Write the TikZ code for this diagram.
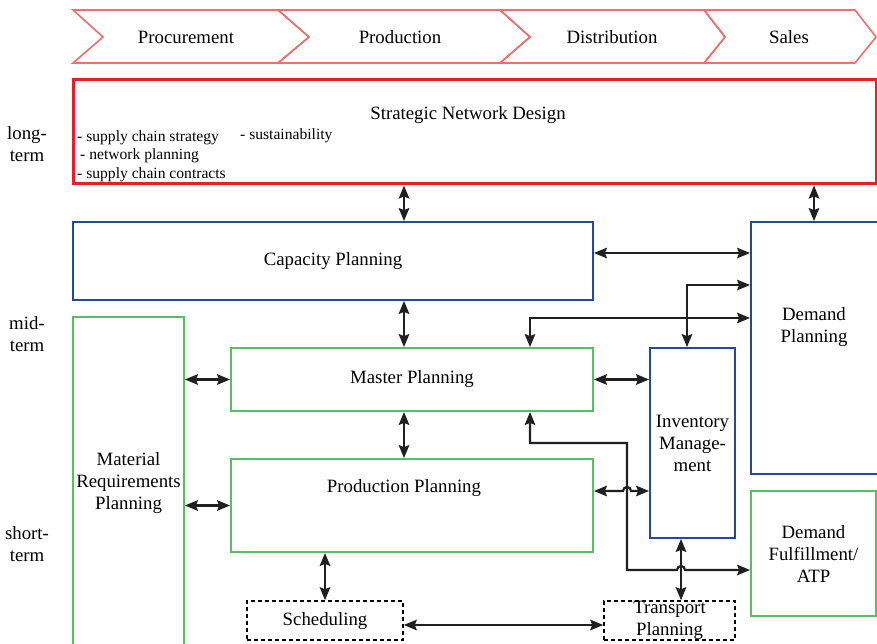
\documentclass[tikz,border=0pt]{standalone}
\usepackage{fontspec}
\setmainfont{Liberation Serif}
\usetikzlibrary{arrows.meta, calc}

\definecolor{chevred}{RGB}{236,112,112}
\definecolor{stratred}{RGB}{230,32,40}
\definecolor{planblue}{RGB}{36,72,160}
\definecolor{plangreen}{RGB}{88,190,100}
\definecolor{linkgray}{RGB}{32,32,32}

\begin{document}
\begin{tikzpicture}[
    x=1pt, y=-1pt,
    >={Stealth[length=13pt, width=10.5pt, inset=2pt]},
    font=\rmfamily\fontsize{18.8}{22}\selectfont,
    box/.style={draw, line width=1.8pt, inner sep=0pt, align=center},
    bluebox/.style={box, draw=planblue},
    greenbox/.style={box, draw=plangreen},
    dashbox/.style={box, draw=black, line width=1.5pt, dash pattern=on 4pt off 3pt},
    link/.style={<->, line width=2.2pt, draw=linkgray},
    chev/.style={draw=chevred, line width=1.6pt, line join=miter},
    small/.style={font=\rmfamily\fontsize{15.6}{18.5}\selectfont, inner sep=0pt},
]
    \useasboundingbox (0,0) rectangle (877,644);
    \clip (0,0) rectangle (877,644);

    % value chain
    \foreach \a/\b/\d/\e in {73/278/30/31, 278/500/31/30, 500/704/30/21, 704/855/21/21}
        \draw[chev] (\a,10) -- (\b,10) -- (\b+\e,37) -- (\b,63) -- (\a,63) -- (\a+\d,37) -- cycle;

    \node (proc)  at (186,37) {Procurement};
    \node (prodn) at (400,37) {Production};
    \node (dist)  at (612,37) {Distribution};
    \node (sales) at (789,37) {Sales};

    % horizon
    \node[align=center] (long)  at (27,144) {long-\\term};
    \node[align=center] (mid)   at (27,334) {mid-\\term};
    \node[align=center] (short) at (27,544) {short-\\term};

    % boxes
    \node[box, draw=stratred, line width=3pt, minimum width=803pt, minimum height=104pt] (strat) at (474.5,132) {};
    \node (stratT) at (468,115) {Strategic Network Design};
    \node[small, align=left, anchor=north west] (stratL) at (77,130)
        {- supply chain strategy\\\hspace{3pt}- network planning\\- supply chain contracts};
    \node[small, anchor=west] (stratR) at (240,136) {- sustainability};

    \node[bluebox, minimum width=520pt, minimum height=78pt] (cap) at (333,261) {Capacity Planning};
    \node[bluebox, minimum width=150pt, minimum height=252pt] (dp) at (826,348) {};
    \node[align=center] (dpT) at (814,327) {Demand\\Planning};

    \node[greenbox, minimum width=111pt, minimum height=333pt] (mrp) at (128.5,483.5)
        {Material\\Requirements\\Planning};
    \node[greenbox, minimum width=362pt, minimum height=63pt] (mp) at (412,379.5) {Master Planning};
    \node[greenbox, minimum width=362pt, minimum height=93pt] (pp) at (412,505.5) {};
    \node (ppT) at (404,488) {Production Planning};
    \node[bluebox, minimum width=85pt, minimum height=190pt] (inv) at (692.5,443)
        {Inventory\\Manage-\\ment};
    \node[greenbox, minimum width=125pt, minimum height=125pt] (df) at (813.5,553.5)
        {Demand\\Fulfillment/\\ATP};
    \node[dashbox, minimum width=156pt, minimum height=39pt] (sched) at (325,620.5) {Scheduling};
    \node[dashbox, minimum width=131pt, minimum height=39pt] (tp) at (669.5,620.5)
        {Transport\\Planning};

    % links
    \coordinate (vx) at (404,0);
    \draw[link] (strat.south -| vx) -- (cap.north -| vx);
    \draw[link] (strat.south -| dpT) -- (dp.north -| dpT);
    \draw[link] (cap.east |- 0,253) -- (dp.west |- 0,253);
    \draw[link] (cap.south -| vx) -- (mp.north -| vx);
    \draw[link] (mp.south -| vx) -- (pp.north -| vx);
    \draw[link] (mrp.east |- mp.west) -- (mp.west);
    \draw[link] (mrp.east |- pp.west) -- (pp.west);
    \draw[link] (mp.east) -- (inv.west |- mp.east);
    \draw[link] (inv.north -| 687,0) |- (dp.west |- 0,285);
    \draw[link] (mp.north -| 530,0) |- (dp.west |- 0,318);
    \draw[link] (pp.east |- 0,491) -- (623,491)
        arc[start angle=180, end angle=0, radius=4pt] -- (inv.west |- 0,491);
    \draw[link] (mp.south -| 530,0) |- (627,443) |- (677,570)
        arc[start angle=180, end angle=0, radius=4pt] -- (df.west |- 0,570);
    \draw[link] (inv.south -| 681,0) -- (tp.north -| 681,0);
    \draw[link] (pp.south -| sched) -- (sched.north);
    \draw[link] (sched.east |- 0,625) -- (tp.west |- 0,625);
\end{tikzpicture}
\end{document}
